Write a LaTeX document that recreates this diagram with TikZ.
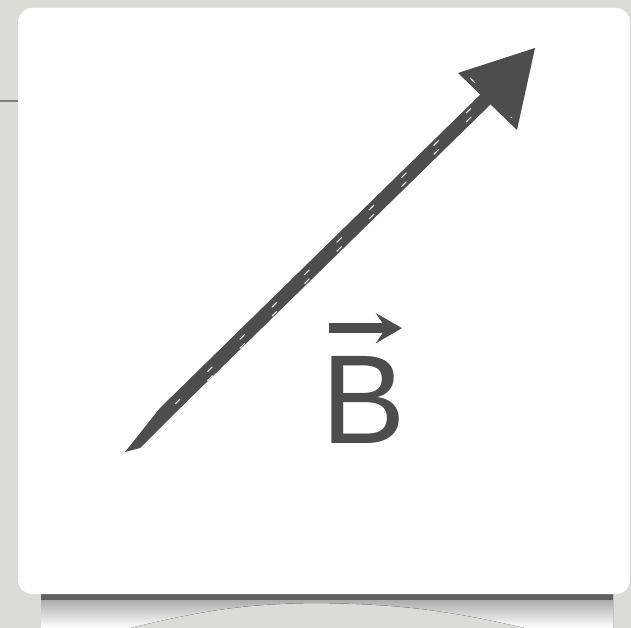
\documentclass[tikz,border=0pt]{standalone}
\usepackage{fontspec}
\setmainfont{Liberation Sans}
\usetikzlibrary{arrows.meta, calc}
\definecolor{ink}{HTML}{4D4D4D}
\definecolor{paper}{HTML}{DCDCD7}
\definecolor{shade}{HTML}{6E6E6E}

\begin{document}
\begin{tikzpicture}[x=0.01cm, y=-0.01cm,
    vecarrow/.style={ink, line width=2.9pt, -{Stealth[length=0.26cm, width=0.3cm, inset=0.1cm]}},
    streak/.style={white, line width=0.3pt, dash pattern=on 2pt off 11pt}]
    % background, shadow and card
    \fill[paper] (0,0) rectangle (631,628);
    \useasboundingbox (0,0) rectangle (631,628);
    \draw[gray, line width=0.8pt] (0,101) -- (18,101);
    \fill[shade] (41,585) -- (41,628) -- (130,628)
        .. controls (220,606) and (260,604) .. (315,603)
        .. controls (380,604) and (430,606) .. (525,628) -- (613,628) -- (613,585) -- cycle;
    \fill[ink!90] (41,590) rectangle (613,600);
    \fill[white, rounded corners=4pt] (18,8) rectangle (630,594);

    % vector B
    \coordinate (tail) at (125,452);
    \coordinate (tip) at (535,48);
    \fill[ink] (tail) -- (160,408) -- (483,92)
        -- (493,102) -- (170,418) -- (140,448) -- cycle;
    \fill[ink] (458,73) -- (tip) -- (517,130) -- cycle;
    \draw[streak] (175,404) -- (482,97);
    \draw[streak, dash phase=6pt] (190,398) -- (488,100);
    \draw[streak, dash pattern=on 2pt off 14pt] (470,78) -- (512,118);

    % label
    \node[ink, inner sep=0pt, anchor=base, font=\fontsize{36}{36}\selectfont] (B) at (364,443) {B};
    \draw[vecarrow] ([xshift=0.08cm, yshift=0.27cm]B.north west) -- ([xshift=-0.05cm, yshift=0.27cm]B.north east);
\end{tikzpicture}
\end{document}
